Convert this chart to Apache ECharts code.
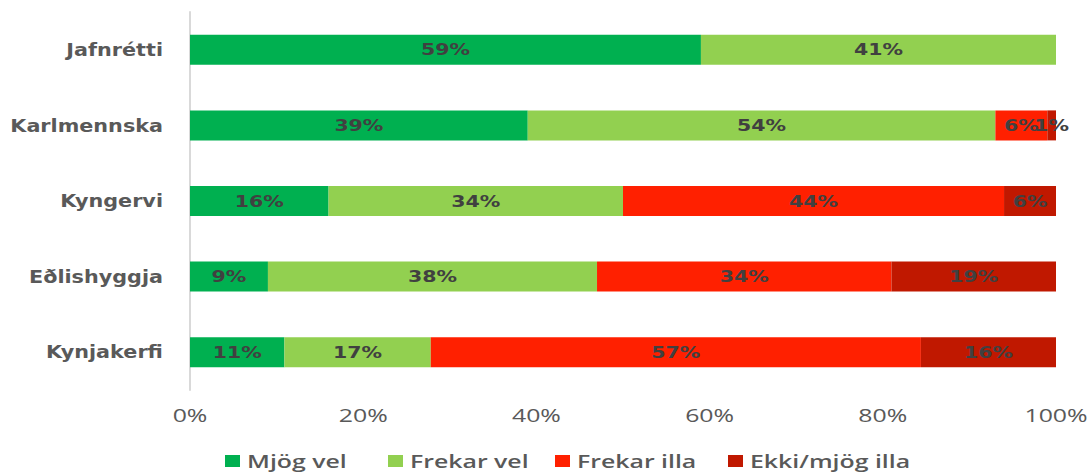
<!DOCTYPE html>
<html><head><meta charset="utf-8">
<script src="https://cdn.jsdelivr.net/npm/echarts@6/dist/echarts.min.js"></script>
<style>html,body{margin:0;padding:0;background:#fff}#c{width:1092px;height:473px}</style>
</head><body><div id="c"></div>
<script>
const categories = ['Jafnrétti', 'Karlmennska', 'Kyngervi', 'Eðlishyggja', 'Kynjakerfi'];
const seriesNames = ['Mjög vel', 'Frekar vel', 'Frekar illa', 'Ekki/mjög illa'];
const mjogVel = [59, 39, 16, 9, 10.9];
const frekarVel = [41, 54, 34, 38, 16.9];
const frekarIlla = [0, 6, 44, 34, 56.6];
const ekkiIlla = [0, 1, 6, 19, 15.6];
const xTicks = ['0%', '20%', '40%', '60%', '80%', '100%'];
const colors = ['#00B050', '#92D050', '#FF2000', '#C01800'];

const chart = echarts.init(document.getElementById('c'), null, { renderer: 'svg' });
const values = [mjogVel, frekarVel, frekarIlla, ekkiIlla];
const legendLeft = [220, 383, 550, 723];
chart.setOption({
  animation: false,
  grid: { left: 190, right: 36, top: 12, bottom: 83 },
  legend: seriesNames.map((n, i) => ({
    left: legendLeft[i], top: 447, itemWidth: 15, itemHeight: 12,
    icon: 'rect',
    textStyle: { fontFamily: 'Open Sans', fontWeight: 600, fontSize: 18, color: '#595959', padding: [0, 0, 0, 2] },
    data: [n]
  })),
  xAxis: {
    type: 'value', min: 0, max: 100, interval: 20,
    axisLine: { show: false }, axisTick: { show: false }, splitLine: { show: false },
    axisLabel: { margin: 16, fontFamily: 'Open Sans', fontSize: 18, color: '#595959',
      formatter: v => xTicks[Math.round(v / 20)] }
  },
  yAxis: {
    type: 'category', inverse: true, data: categories,
    axisLine: { lineStyle: { color: '#D9D9D9', width: 2 } }, axisTick: { show: false },
    axisLabel: { margin: 27, fontFamily: 'DejaVu Sans', fontWeight: 'bold', fontSize: 17, color: '#595959' }
  },
  series: seriesNames.map((n, i) => ({
    name: n, type: 'bar', stack: 'total', barWidth: 30,
    itemStyle: { color: colors[i] },
    label: {
      show: true, position: 'inside',
      fontFamily: 'DejaVu Sans', fontWeight: 'bold', fontSize: 16, color: '#404040',
      formatter: p => p.value > 0 ? Math.round(p.value) + '%' : ''
    },
    labelLayout: { hideOverlap: false },
    data: values[i]
  }))
});

// emulate the horizontally stretched lettering of the reference
document.querySelectorAll('#c svg text').forEach(t => {
  const fs = parseFloat(getComputedStyle(t).fontSize);
  let k = 1;
  if (fs === 17) k = 1.22;
  else if (fs === 16) k = 1.28;
  else if (fs === 18) k = 1.38;
  if (k === 1) return;
  const x = parseFloat(t.getAttribute('x') || '0');
  const y = parseFloat(t.getAttribute('y') || '0');
  t.setAttribute('x', 0); t.setAttribute('y', 0);
  const tr = t.getAttribute('transform') || '';
  t.setAttribute('transform', tr + ` translate(${x} ${y}) scale(${k} 1)`);
});
</script></body></html>
